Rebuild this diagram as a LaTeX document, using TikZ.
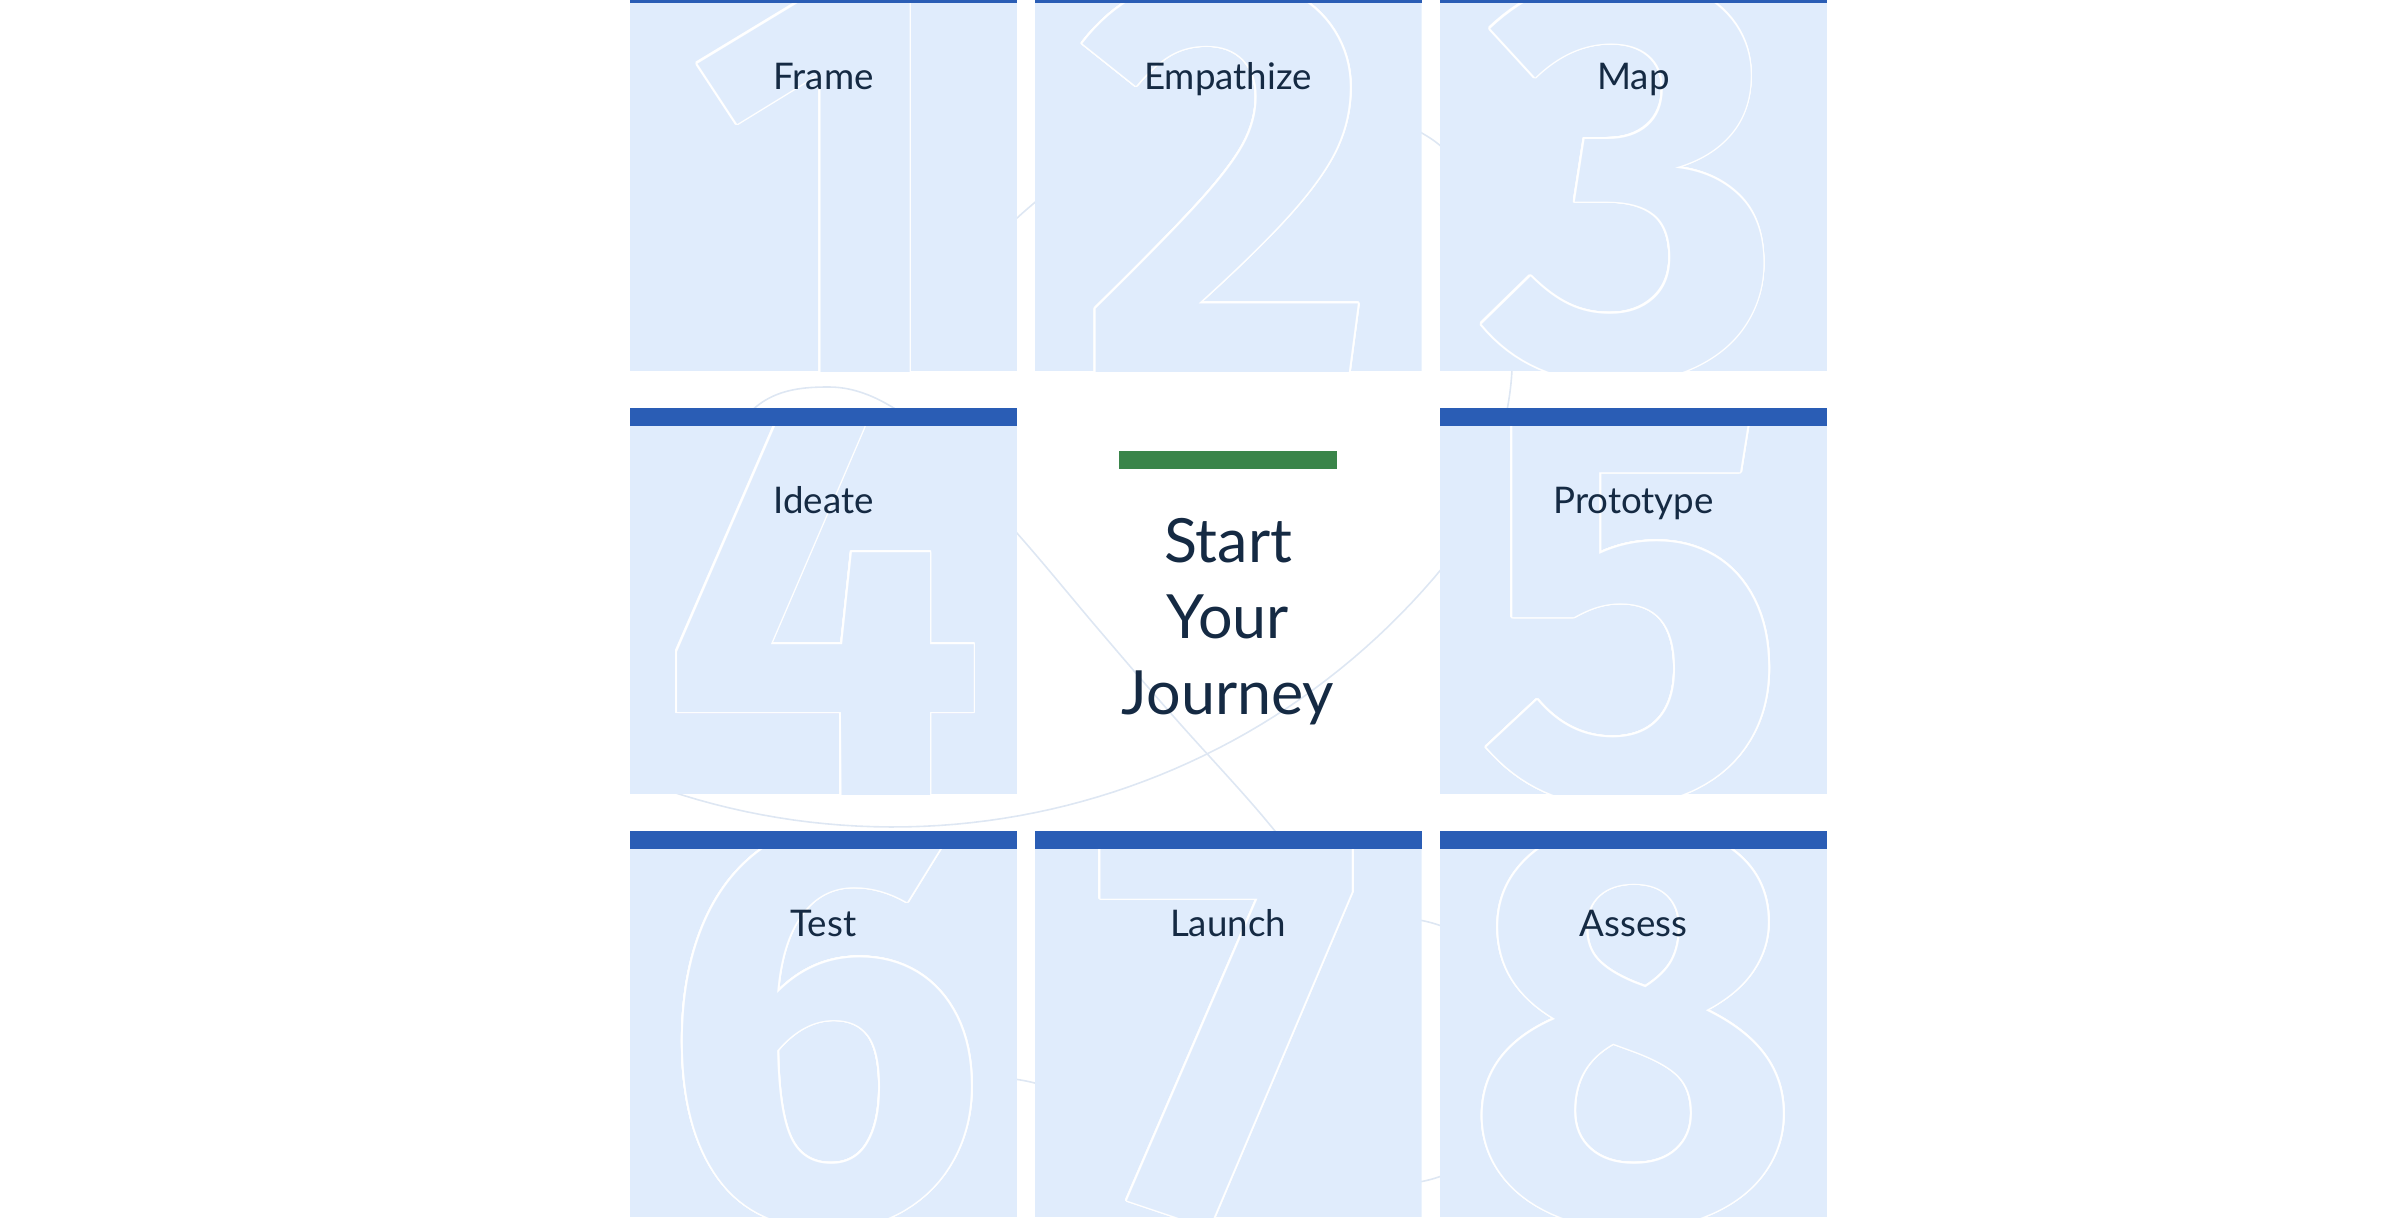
\documentclass[tikz,border=0pt]{standalone}
\usepackage{fontspec}
\setmainfont{Lato}
\newfontfamily\numfont{Fira Sans}
\definecolor{tileblue}{RGB}{224,236,252}
\definecolor{barblue}{RGB}{42,93,181}
\definecolor{startgreen}{RGB}{58,133,74}
\definecolor{inkblue}{RGB}{21,42,67}
\definecolor{trailgray}{RGB}{222,231,243}

\begin{document}
\begin{tikzpicture}[x=1pt, y=-1pt,
    tilebox/.style={fill=tileblue},
    barbox/.style={fill=barblue, inner sep=0pt, minimum width=387pt, minimum height=18pt, anchor=north},
    steplabel/.style={font=\fontsize{36.7}{44}\selectfont, text=inkblue, anchor=base, inner sep=0pt},
    bignum/.style={font=\numfont\bfseries\fontsize{575}{575}\selectfont, anchor=base, inner sep=0pt},
    titleline/.style={font=\fontsize{61}{76}\selectfont, text=inkblue, anchor=base, inner sep=0pt},
    trail/.style={draw=trailgray, line width=1.6pt}]
  \useasboundingbox (0,0) rectangle (2396,1220);
  \clip (0,0) rectangle (2396,1220);

  % faint trails behind the grid
  \begin{scope}
    \clip (630,-15) rectangle (1827,1217);
    \draw[trail] plot[domain=115:38, samples=60] ({893+712*cos(\x)}, {115+712*sin(\x)});
    \draw[trail] plot[smooth, tension=0.6] coordinates {(1454,553) (1500,440) (1512,340) (1490,230) (1430,138) (1290,100) (1130,140) (1026,210) (920,320)};
    \draw[trail] plot[smooth, tension=0.6] coordinates {(690,600) (740,425) (829,387) (918,425) (1016,532) (1099,630) (1174,717) (1260,813) (1330,900)};
    \draw[trail] (1396,1051) circle[radius=133pt];
    \draw[trail] plot[smooth] coordinates {(900,1070) (1026,1081) (1150,1120)};
  \end{scope}

  % eight steps
  \foreach \n/\cx/\ty/\word in {1/823.5/-15/Frame, 2/1228/-15/Empathize, 3/1633.5/-15/Map,
      4/823.5/408/Ideate, 5/1633.5/408/Prototype,
      6/823.5/831/Test, 7/1228/831/Launch, 8/1633.5/831/Assess}{
    \begin{scope}
      \clip (\cx-193.5,\ty) rectangle (\cx+193.5,\ty+386);
      \fill[tilebox] (\cx-193.5,\ty) rectangle (\cx+193.5,\ty+386);
      \foreach \a in {0,15,...,345}
        \node[bignum, text=white] (ghost\n-\a) at ([shift={(\a:1.7pt)}] \cx,\ty+388) {\n};
      \node[bignum, text=tileblue] (num\n) at (\cx,\ty+388) {\n};
    \end{scope}
    \node[barbox] (bar\n) at (\cx,\ty) {};
    \node[steplabel] (label\n) at (\cx,\ty+105) {\word};
  }

  % centre
  \node[fill=startgreen, inner sep=0pt, minimum width=218pt, minimum height=18pt] (greenbar) at (1228,460) {};
  \node[titleline] (title1) at (1228,562.7) {Start};
  \node[titleline] (title2) at (1228,638.4) {Your};
  \node[titleline] (title3) at (1228,714) {Journey};
\end{tikzpicture}
\end{document}
